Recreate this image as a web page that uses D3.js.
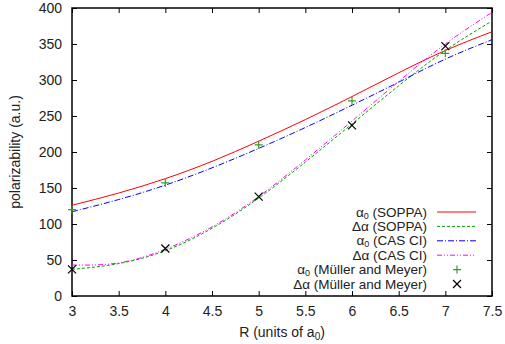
<!DOCTYPE html>
<html>
<head>
<meta charset="utf-8">
<script src="https://cdn.jsdelivr.net/npm/d3@7"></script>
<style>
  body { margin: 0; background: #fff; }
  svg text { font-family: "Liberation Sans", Arial, sans-serif; fill: #222; }
</style>
</head>
<body>
<div id="chart"></div>
<script>
const rGrid = [3, 3.5, 4, 4.5, 5, 5.5, 6, 6.5, 7, 7.5];
const alphaSoppa = [126, 143, 163, 187, 215, 245, 277, 310, 341, 367];
const deltaSoppa = [37, 45, 63, 94, 136, 186, 239, 292, 341, 382];
const alphaCas = [117, 134, 154, 178, 205, 234, 265, 297, 329, 356];
const deltaCas = [43, 46, 65, 96, 138, 189, 243, 298, 350, 394];
const mmR = [3, 4, 5, 6, 7];
const mmAlpha = [120, 157, 210, 271, 337];
const mmDelta = [37, 66, 138, 237, 347];
const xTicks = [3, 3.5, 4, 4.5, 5, 5.5, 6, 6.5, 7, 7.5];
const yTicks = [0, 50, 100, 150, 200, 250, 300, 350, 400];

const width = 505, height = 344;
const margin = {top: 8, right: 13, bottom: 48, left: 72};
const w = width - margin.left - margin.right;
const h = height - margin.top - margin.bottom;

const svg = d3.select('#chart').append('svg')
  .attr('width', width).attr('height', height);
const g = svg.append('g').attr('transform', `translate(${margin.left},${margin.top})`);

const x = d3.scaleLinear().domain([3, 7.5]).range([0, w]);
const y = d3.scaleLinear().domain([0, 400]).range([h, 0]);

// axes, ticks inward and mirrored
const tick = 5;
g.append('g').attr('transform', `translate(0,${h})`)
  .call(d3.axisBottom(x).tickValues(xTicks).tickSizeInner(-tick).tickSizeOuter(0).tickPadding(10).tickFormat(d3.format('')));
g.append('g')
  .call(d3.axisTop(x).tickValues(xTicks).tickSizeInner(-tick).tickSizeOuter(0).tickFormat(''));
g.append('g')
  .call(d3.axisLeft(y).tickValues(yTicks).tickSizeInner(-tick).tickSizeOuter(0).tickPadding(10));
g.append('g').attr('transform', `translate(${w},0)`)
  .call(d3.axisRight(y).tickValues(yTicks).tickSizeInner(-tick).tickSizeOuter(0).tickFormat(''));
g.selectAll('.domain').remove();
g.selectAll('.tick line').attr('stroke', '#000');
g.selectAll('.tick text').attr('font-size', 14).attr('fill', '#222');

g.append('rect').attr('width', w).attr('height', h)
  .attr('fill', 'none').attr('stroke', '#000').attr('stroke-width', 1.5);

// curves
const series = [
  {vals: alphaSoppa, color: '#ff0000', dash: null},
  {vals: deltaSoppa, color: '#00a000', dash: '3,2'},
  {vals: alphaCas, color: '#0000ff', dash: '6,2,1,2'},
  {vals: deltaCas, color: '#ff00ff', dash: '5,2,1,2,1,2'}
];
const line = d3.line().x((d, i) => x(rGrid[i])).y(d => y(d)).curve(d3.curveNatural);
const plot = g.append('g');
series.forEach(s => {
  plot.append('path').datum(s.vals)
    .attr('fill', 'none').attr('stroke', s.color).attr('stroke-width', 1)
    .attr('stroke-dasharray', s.dash).attr('d', line);
});

const plus = (sel, cx, cy, c) => {
  sel.append('path').attr('d', `M${cx - 4},${cy}H${cx + 4}M${cx},${cy - 4}V${cy + 4}`)
    .attr('stroke', c).attr('stroke-width', 1.2).attr('fill', 'none');
};
const cross = (sel, cx, cy, c) => {
  sel.append('path').attr('d', `M${cx - 4},${cy - 4}L${cx + 4},${cy + 4}M${cx - 4},${cy + 4}L${cx + 4},${cy - 4}`)
    .attr('stroke', c).attr('stroke-width', 1.2).attr('fill', 'none');
};
mmR.forEach((r, i) => plus(plot, x(r), y(mmAlpha[i]), '#2e9e2e'));
mmR.forEach((r, i) => cross(plot, x(r), y(mmDelta[i]), '#000'));

// legend
const legend = svg.append('g');
const lx = 427, ly0 = 212, dy = 14.4;
const labels = [
  ['a', ' (SOPPA)'], ['d', ' (SOPPA)'], ['a', ' (CAS CI)'], ['d', ' (CAS CI)'],
  ['a', ' (Müller and Meyer)'], ['d', ' (Müller and Meyer)']
];
labels.forEach((l, i) => {
  const ty = ly0 + i * dy;
  const t = legend.append('text').attr('x', lx).attr('y', ty + 4.5)
    .attr('text-anchor', 'end').attr('font-size', 13.5);
  if (l[0] === 'a') {
    t.append('tspan').text('α');
    t.append('tspan').attr('font-size', 9).attr('dy', 2).text('0');
    t.append('tspan').attr('dy', -2).text(l[1]);
  } else {
    t.append('tspan').text('Δα' + l[1]);
  }
  if (i < 4) {
    const s = series[i];
    legend.append('line').attr('x1', 437).attr('x2', 476).attr('y1', ty).attr('y2', ty)
      .attr('stroke', s.color).attr('stroke-dasharray', s.dash);
  } else if (i === 4) {
    plus(legend, 457, ty, '#2e9e2e');
  } else {
    cross(legend, 457, ty, '#000');
  }
});

// axis titles
const xl = svg.append('text').attr('x', margin.left + w / 2).attr('y', 337)
  .attr('text-anchor', 'middle').attr('font-size', 14);
xl.append('tspan').text('R (units of a');
xl.append('tspan').attr('font-size', 10).attr('dy', 3).text('0');
xl.append('tspan').attr('dy', -3).text(')');

svg.append('text').attr('transform', `translate(20,${margin.top + h / 2}) rotate(-90)`)
  .attr('text-anchor', 'middle').attr('font-size', 14).text('polarizability (a.u.)');
</script>
</body>
</html>
